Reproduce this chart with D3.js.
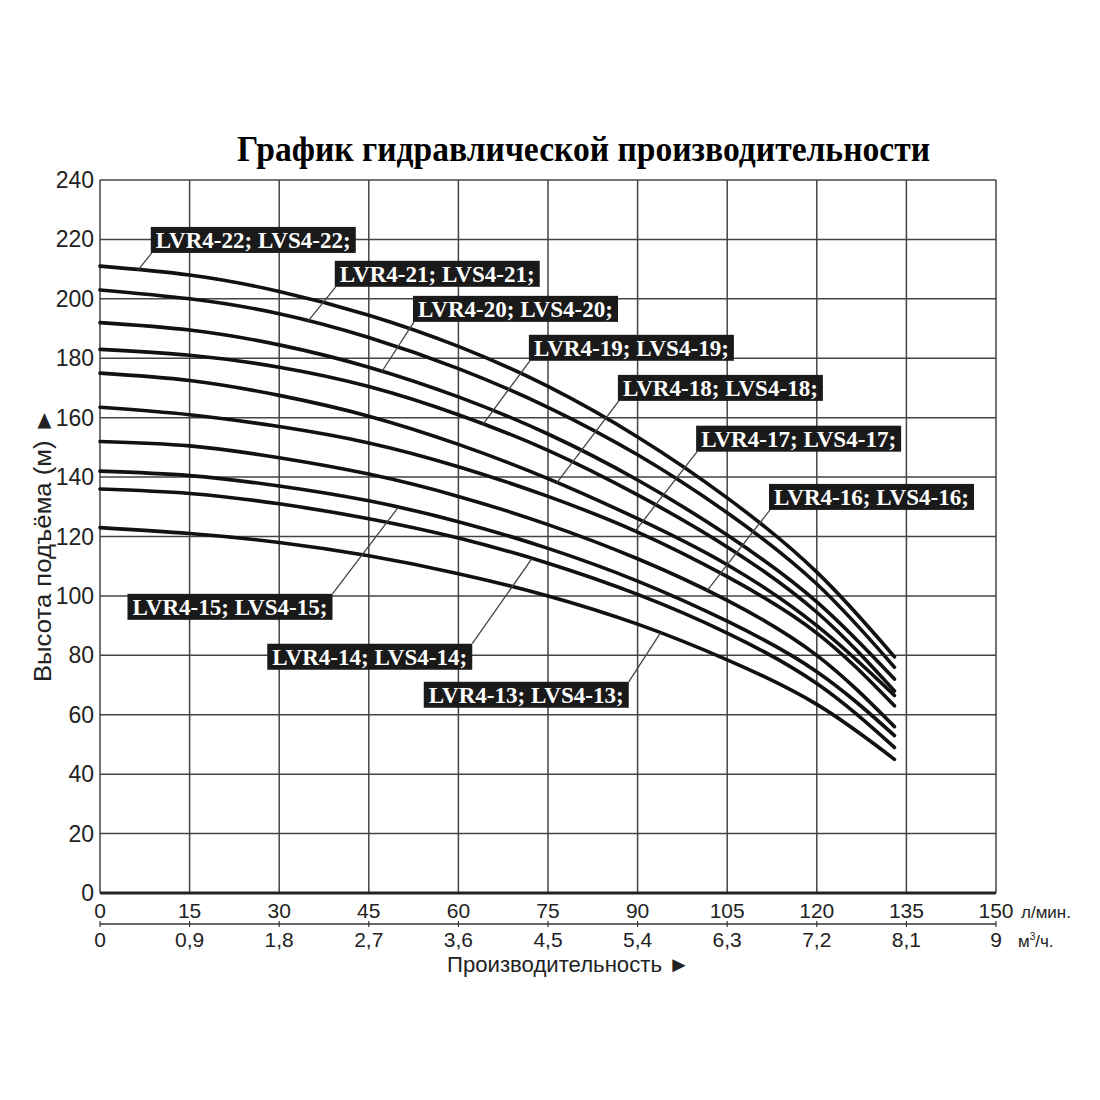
<!DOCTYPE html>
<html>
<head>
<meta charset="utf-8">
<script src="https://cdn.jsdelivr.net/npm/d3@7"></script>
<style>
    body { margin: 0; background: #fff; }
    svg { display: block; }
</style>
</head>
<body>
<svg id="chart" width="1100" height="1100"></svg>
<script>
// flow points (l/min) where the curves were read
let flows = [0, 15, 30, 45, 60, 75, 90, 105, 120, 133];

// head (m) for each pump model
let h22 = [211, 208, 202.5, 194.5, 184, 170.5, 153.5, 133, 108, 79.5];
let h21 = [203, 200, 195, 187, 176.5, 163.5, 147.5, 128, 104, 76];
let h20 = [192, 189.5, 184.5, 177, 167, 154.5, 139, 120.5, 98, 72];
let h19 = [183, 181, 177, 170.5, 161, 149, 134, 116.5, 94.5, 68];
let h18 = [175, 172.5, 167.5, 160.5, 151, 139.5, 126, 110.5, 90, 66.5];
let h17 = [163.5, 161, 157, 151.5, 143.5, 133.5, 121.5, 106.5, 87.5, 63];
let h16 = [152, 150.5, 146.5, 141, 133.5, 124, 112.5, 98.5, 80, 56];
let h15 = [142, 140.5, 137, 132, 125, 116, 105, 91.5, 74.5, 53];
let h14 = [136, 134.5, 131, 126, 119.5, 111, 100.5, 87.5, 70.5, 49];
let h13 = [123, 121, 118, 113.5, 107.5, 100, 90.5, 78.5, 63.5, 45];

let models = [22, 21, 20, 19, 18, 17, 16, 15, 14, 13];
let heads = [h22, h21, h20, h19, h18, h17, h16, h15, h14, h13];

// label boxes: top-left corner in chart units, and where the leader meets the curve
let labelFlow = [8.5, 39.3, 52.4, 71.8, 86.7, 99.8, 112.0, 4.6, 28.0, 54.2];
let labelHead = [224.2, 212.8, 201.0, 187.9, 174.4, 157.3, 137.7, 100.7, 83.9, 71.1];
let leaderFlow = [6.4, 34.8, 47.2, 64.1, 76.5, 89.6, 101.6, 49.9, 72.3, 93.8];

let flowTicks = [0, 15, 30, 45, 60, 75, 90, 105, 120, 135, 150];
let cubicTicks = ['0', '0,9', '1,8', '2,7', '3,6', '4,5', '5,4', '6,3', '7,2', '8,1', '9'];
let headTicks = [0, 20, 40, 60, 80, 100, 120, 140, 160, 180, 200, 220, 240];

let TITLE = 'График гидравлической производительности';
let SANS = 'Liberation Sans, Arial, sans-serif';
let SERIF = 'Liberation Serif, Times New Roman, serif';

let svg = d3.select('#chart');

let x = d3.scaleLinear().domain([0, 150]).range([100, 996]);
let y = d3.scaleLinear().domain([0, 240]).range([893, 180]);

function headAt(values, q) {
    let i = d3.bisectRight(flows, q) - 1;
    if (i < 0) i = 0;
    if (i > flows.length - 2) i = flows.length - 2;
    let t = (q - flows[i]) / (flows[i + 1] - flows[i]);
    return values[i] + t * (values[i + 1] - values[i]);
}

// title
svg.append('text')
    .attr('x', 237)
    .attr('y', 161)
    .attr('textLength', 693)
    .attr('lengthAdjust', 'spacingAndGlyphs')
    .style('font-family', SERIF)
    .style('font-weight', 'bold')
    .style('font-size', '35px')
    .text(TITLE);

// grid
let grid = svg.append('g');
grid.selectAll('.vgrid')
    .data(flowTicks)
    .enter()
    .append('line')
    .attr('x1', d => x(d))
    .attr('x2', d => x(d))
    .attr('y1', y(240))
    .attr('y2', y(0))
    .attr('stroke', '#444')
    .attr('stroke-width', 1.5);

grid.selectAll('.hgrid')
    .data(headTicks)
    .enter()
    .append('line')
    .attr('x1', x(0))
    .attr('x2', x(150))
    .attr('y1', d => y(d))
    .attr('y2', d => y(d))
    .attr('stroke', d => d === 0 ? '#222' : '#444')
    .attr('stroke-width', d => d === 0 ? 3 : 1.5);

// y tick labels
svg.append('g')
    .selectAll('text')
    .data(headTicks)
    .enter()
    .append('text')
    .attr('x', 94)
    .attr('y', d => y(d) + 8)
    .attr('text-anchor', 'end')
    .style('font-family', SANS)
    .style('font-size', '23px')
    .style('fill', '#222')
    .text(d => d);

// x tick labels (l/min)
svg.append('g')
    .selectAll('text')
    .data(flowTicks)
    .enter()
    .append('text')
    .attr('x', d => x(d))
    .attr('y', 918)
    .attr('text-anchor', 'middle')
    .style('font-family', SANS)
    .style('font-size', '21px')
    .style('fill', '#222')
    .text(d => d);

svg.append('text')
    .attr('x', 1021)
    .attr('y', 918)
    .style('font-family', SANS)
    .style('font-size', '17px')
    .style('fill', '#222')
    .text('л/мин.');

// second axis m3/h
svg.append('line')
    .attr('x1', x(0))
    .attr('x2', x(150))
    .attr('y1', 924)
    .attr('y2', 924)
    .attr('stroke', '#333')
    .attr('stroke-width', 1.5);

svg.append('g')
    .selectAll('line')
    .data(flowTicks)
    .enter()
    .append('line')
    .attr('x1', d => x(d))
    .attr('x2', d => x(d))
    .attr('y1', 921)
    .attr('y2', 927)
    .attr('stroke', '#333')
    .attr('stroke-width', 1.2);

svg.append('g')
    .selectAll('text')
    .data(cubicTicks)
    .enter()
    .append('text')
    .attr('x', (d, i) => x(flowTicks[i]))
    .attr('y', 947)
    .attr('text-anchor', 'middle')
    .style('font-family', SANS)
    .style('font-size', '21px')
    .style('fill', '#222')
    .text(d => d);

let unit = svg.append('text')
    .attr('x', 1018)
    .attr('y', 947)
    .style('font-family', SANS)
    .style('font-size', '17px')
    .style('fill', '#222');
unit.append('tspan').text('м');
unit.append('tspan').attr('dy', -7).style('font-size', '10px').text('3');
unit.append('tspan').attr('dy', 7).text('/ч.');

// axis titles
svg.append('text')
    .attr('x', 447)
    .attr('y', 972)
    .attr('textLength', 243)
    .attr('lengthAdjust', 'spacingAndGlyphs')
    .style('font-family', SANS)
    .style('font-size', '22px')
    .style('fill', '#222')
    .text('Производительность ►');

svg.append('text')
    .attr('transform', 'translate(51,682) rotate(-90)')
    .attr('textLength', 274)
    .attr('lengthAdjust', 'spacingAndGlyphs')
    .style('font-family', SANS)
    .style('font-size', '23px')
    .style('fill', '#222')
    .text('Высота подъёма (м) ►');

// curves
let line = d3.line()
    .x((d, i) => x(flows[i]))
    .y(d => y(d))
    .curve(d3.curveNatural);

svg.append('g')
    .selectAll('path')
    .data(heads)
    .enter()
    .append('path')
    .attr('d', d => line(d))
    .attr('fill', 'none')
    .attr('stroke', '#111')
    .attr('stroke-width', 3.6)
    .attr('stroke-linecap', 'round');

// labels with leader lines
let labels = svg.append('g');
models.forEach((m, i) => {
    let bx = x(labelFlow[i]);
    let by = y(labelHead[i]);
    let w = 205;
    let h = 26;
    let g = labels.append('g');

    g.append('rect')
        .attr('x', bx)
        .attr('y', by)
        .attr('width', w)
        .attr('height', h)
        .attr('fill', '#1a1a1a');

    g.append('text')
        .attr('x', bx + 5)
        .attr('y', by + 21)
        .attr('textLength', w - 10)
        .attr('lengthAdjust', 'spacingAndGlyphs')
        .style('font-family', SERIF)
        .style('font-weight', 'bold')
        .style('font-size', '24px')
        .style('fill', '#fff')
        .text('LVR4-' + m + '; LVS4-' + m + ';');

    // upper labels hang from their lower-left corner, lower ones from the upper-right
    let lower = i >= 7;
    let sx = lower ? bx + w : bx + 1;
    let sy = lower ? by : by + h;
    let ex = x(leaderFlow[i]);
    let ey = y(headAt(heads[i], leaderFlow[i]));

    labels.insert('line', ':first-child')
        .attr('x1', sx)
        .attr('y1', sy)
        .attr('x2', ex)
        .attr('y2', ey)
        .attr('stroke', '#444')
        .attr('stroke-width', 1.3);
});
</script>
</body>
</html>
